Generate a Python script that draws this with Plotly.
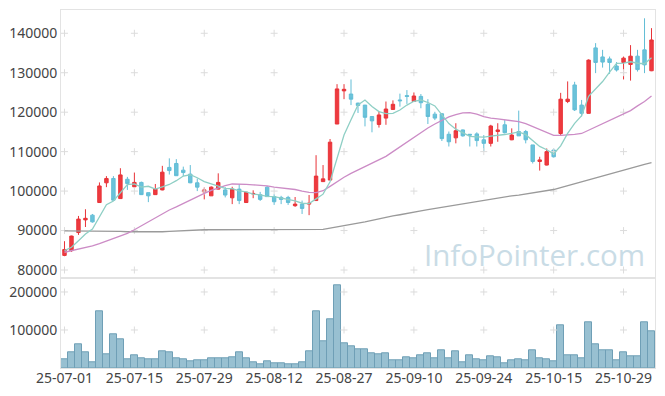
import plotly.graph_objects as go
from plotly.subplots import make_subplots
import pandas as pd

dates = ["25-07-01","25-07-02","25-07-03","25-07-04","25-07-07","25-07-08","25-07-09","25-07-10","25-07-11","25-07-14",
         "25-07-15","25-07-16","25-07-17","25-07-18","25-07-21","25-07-22","25-07-23","25-07-24","25-07-25","25-07-28",
         "25-07-29","25-07-30","25-07-31","25-08-01","25-08-04","25-08-05","25-08-06","25-08-07","25-08-08","25-08-11",
         "25-08-12","25-08-13","25-08-14","25-08-18","25-08-19","25-08-20","25-08-21","25-08-22","25-08-25","25-08-26",
         "25-08-27","25-08-28","25-08-29","25-09-01","25-09-02","25-09-03","25-09-04","25-09-05","25-09-08","25-09-09",
         "25-09-10","25-09-11","25-09-12","25-09-15","25-09-16","25-09-17","25-09-18","25-09-19","25-09-22","25-09-23",
         "25-09-24","25-09-25","25-09-26","25-09-29","25-09-30","25-10-01","25-10-02","25-10-10","25-10-13","25-10-14",
         "25-10-15","25-10-16","25-10-17","25-10-20","25-10-21","25-10-22","25-10-23","25-10-24","25-10-27","25-10-28",
         "25-10-29","25-10-30","25-10-31","25-11-03","25-11-04"]

open_ = [83700,84900,89500,92700,93900,97100,102100,103200,98100,103000,
         101100,102200,99600,99100,100300,106000,107000,105300,104300,102100,
         99800,98800,100500,100300,98300,100500,97100,99300,99100,101000,
         98600,98400,98400,96300,96700,96700,97600,102400,102800,117000,
         125400,124600,122300,121800,118900,116900,118500,120700,123100,124200,
         122700,124000,122000,119500,119600,114400,113500,115500,114400,114500,
         113000,112100,115100,116800,113000,115100,115100,111700,107500,106600,
         110400,114600,122700,126900,121800,119700,136300,134000,133500,131700,
         132600,132100,134200,135800,130500]
high = [87300,88700,93700,95400,94200,102200,103800,103800,105800,103600,
        104700,102400,99600,101800,106400,108300,108100,106200,106600,103200,
        100900,101200,104500,101000,101100,101800,99800,100200,99800,101300,
        99200,98800,98800,98500,97600,99000,109100,106600,113200,127100,
        127100,128300,122400,121800,118900,120200,122700,123000,124700,125600,
        125000,124600,123300,120100,119800,115100,117200,115600,114400,114900,
        114200,116800,117200,118000,115900,120400,115500,111700,108700,110800,
        110800,124900,127800,127700,123100,133400,137500,135800,134100,132700,
        134100,137000,135800,143800,141300]
low = [83500,84600,88900,90900,92000,97000,101000,97700,98100,100300,
       101000,99000,97200,99100,100200,104200,103900,103800,102000,100000,
       97900,98800,100400,98400,96700,96700,97000,98200,97500,98500,
       96500,96700,96500,96000,94200,93900,97500,102300,102800,117000,
       123300,121800,119800,116400,114900,116100,116800,120600,121400,122100,
       122600,121000,117000,118000,112700,111300,112100,113800,111300,111300,
       110000,111300,112500,114600,112900,114000,112100,107000,105200,106500,
       108500,114200,122300,120300,118900,119700,129900,131300,129700,130300,
       128300,128000,130300,129900,130400]
close = [85200,88600,92900,93100,92200,101300,103200,97700,104100,101900,
         102200,99100,98800,100500,104800,105200,103900,104700,102100,101000,
         100300,101000,102200,99000,100500,97600,99700,99400,97900,98600,
         97300,97900,97100,96700,95600,96900,103800,103100,112400,125900,
         125800,123300,121700,118700,117800,119300,120800,122000,122900,124000,
         124100,122400,118900,118500,113300,112500,115300,114000,114200,112800,
         112100,116500,115500,114800,114200,114000,113000,107500,107900,110000,
         108700,123300,123300,120600,119700,133200,132600,132700,132600,130700,
         133700,134200,130800,132000,138300]
volume = [22400,42600,63700,42600,16300,147900,37300,90000,76800,24200,
          34700,26800,24200,24200,45200,42600,26800,24200,18900,21500,
          21500,26800,26800,26800,29400,42600,26800,16300,11000,18900,
          13600,13600,11000,11000,16300,45200,147900,71500,129400,216300,
          66300,58400,50500,50500,40000,37400,40000,21500,21500,29400,
          26800,34700,40000,26800,47900,26800,45200,16300,34700,24200,
          21500,32100,29400,13600,21500,24200,21500,47900,26800,24200,
          18900,113600,34700,34700,26800,121500,63700,47900,47900,21500,
          42600,32100,32100,121500,97900]

# first four 5-day averages (need history before the window)
ma5_head = [84900, 85750, 87400, 89100]
ma20 = [84500,84900,85300,85700,86100,86700,87300,88000,88700,89300,
        90200,91200,92300,93300,94300,95200,96000,96900,97700,98500,
        99400,100200,100900,101400,101800,101800,101700,101600,101500,101300,
        101000,100800,100600,100400,100000,99700,99600,100100,101200,102400,
        103500,104500,105400,106300,107200,108000,108800,110000,111200,112400,
        113700,114900,116000,117000,118000,118800,119400,119800,119900,119500,
        118900,118500,118300,118100,117900,117600,117100,116400,115600,114800,
        114100,114100,114200,114400,114600,115400,116300,117100,117800,118600,
        119500,120400,121600,122700,124100]
ma60 = [89900,89900,89900,89900,89900,89850,89800,89800,89800,89700,
        89700,89600,89600,89600,89700,89800,89900,90000,90100,90100,
        90200,90200,90200,90250,90250,90250,90250,90250,90250,90250,
        90250,90250,90250,90250,90250,90250,90250,90300,90600,90900,
        91200,91500,91900,92200,92600,93000,93400,93700,94000,94400,
        94700,95000,95300,95600,95900,96100,96400,96700,97000,97300,
        97600,97900,98200,98500,98800,99000,99300,99600,99900,100100,
        100400,100900,101400,101900,102400,102900,103400,103900,104400,104900,
        105400,105800,106300,106800,107200]

price_ticks = [80000, 90000, 100000, 110000, 120000, 130000, 140000]
volume_ticks = [100000, 200000]
tick_step = 10

x = list(range(len(dates)))
ma5 = ma5_head + list(pd.Series(close).rolling(5).mean().iloc[4:].round(0))

fig = make_subplots(rows=2, cols=1, shared_xaxes=True, vertical_spacing=0,
                    row_heights=[0.7494, 0.2506])

tickx = x[::tick_step]
grid_marker = dict(symbol="cross-thin", size=5, line=dict(color="#dcdcdc", width=1))
fig.add_trace(go.Scatter(
    x=[tx for tx in tickx for _ in price_ticks],
    y=[ty for _ in tickx for ty in price_ticks],
    mode="markers", hoverinfo="skip", marker=grid_marker), row=1, col=1)
fig.add_trace(go.Scatter(
    x=[tx for tx in tickx for _ in volume_ticks],
    y=[ty for _ in tickx for ty in volume_ticks],
    mode="markers", hoverinfo="skip", marker=grid_marker), row=2, col=1)

fig.add_trace(go.Scatter(x=x, y=ma60, mode="lines",
                         line=dict(color="#9a9a9a", width=1.3)), row=1, col=1)
fig.add_trace(go.Scatter(x=x, y=ma20, mode="lines",
                         line=dict(color="#cc8cc6", width=1.3)), row=1, col=1)
fig.add_trace(go.Scatter(x=x, y=ma5, mode="lines",
                         line=dict(color="#8fcfc5", width=1.3)), row=1, col=1)

fig.add_trace(go.Candlestick(
    x=x, open=open_, high=high, low=low, close=close, whiskerwidth=0,
    increasing=dict(line=dict(color="#e83338", width=1), fillcolor="#ee3a3f"),
    decreasing=dict(line=dict(color="#62bdd6", width=1), fillcolor="#6bc3da")), row=1, col=1)

fig.add_trace(go.Bar(x=x, y=volume, width=1.0,
                     marker=dict(color="#98c0d1", line=dict(color="#6f9fb6", width=1))), row=2, col=1)

fig.add_annotation(text="InfoPointer.com", xref="paper", yref="paper",
                   x=0.9865, y=0.316, xanchor="right", yanchor="middle", showarrow=False,
                   font=dict(family="Open Sans", size=29.5, color="#c9dce6"))

fig.update_xaxes(range=[-0.5, len(dates) - 0.5], showgrid=False, zeroline=False,
                 showline=True, linecolor="#e3e3e3", mirror=True, automargin=False,
                 rangeslider_visible=False, ticks="")
fig.update_xaxes(tickvals=tickx, ticktext=[dates[i] for i in tickx], ticklabelstandoff=-3,
                 row=2, col=1)
fig.update_xaxes(showticklabels=False, row=1, col=1)
fig.update_yaxes(range=[77900, 145900], tickvals=price_ticks, ticktext=[str(v) for v in price_ticks],
                 showgrid=False, zeroline=False, automargin=False,
                 showline=True, linecolor="#e3e3e3", mirror=True, ticks="", row=1, col=1)
fig.update_yaxes(range=[0, 236000], tickvals=volume_ticks, ticktext=[str(v) for v in volume_ticks],
                 showgrid=False, zeroline=False, automargin=False,
                 showline=True, linecolor="#e3e3e3", mirror=True, ticks="", row=2, col=1)

fig.update_layout(width=665, height=396, margin=dict(l=61, r=10, t=10, b=28, autoexpand=False),
                  paper_bgcolor="white", plot_bgcolor="white", showlegend=False,
                  bargap=0, font=dict(family="Noto Sans", size=14, color="#444444"))

fig.write_html("out.html", config={"displayModeBar": False},
               post_script="document.body.style.margin='0px';")
